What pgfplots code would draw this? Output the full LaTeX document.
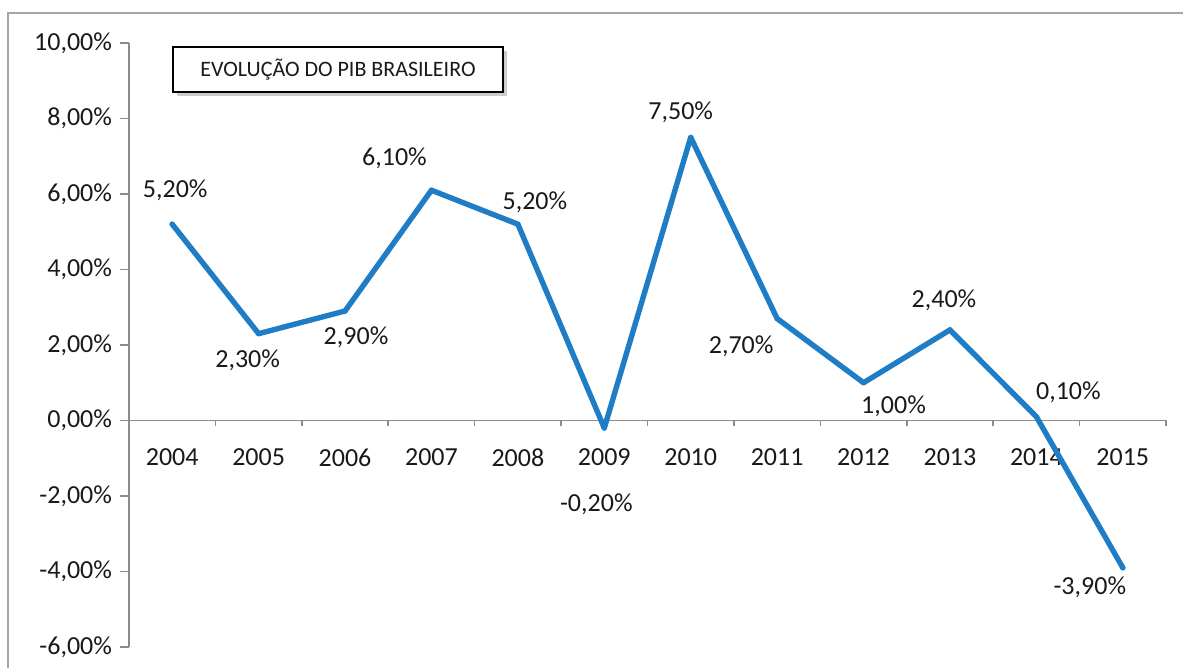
\documentclass[border=0pt]{standalone}
\usepackage{fontspec}
\setmainfont{Carlito}
\usepackage{pgfplots}
\pgfplotsset{compat=1.18}
\usepackage{pgfplotstable}
\usetikzlibrary{shadows}

\definecolor{lineblue}{RGB}{31,125,197}
\definecolor{axgray}{RGB}{140,140,140}
\definecolor{framegray}{RGB}{165,165,165}

% x = category index (2004 = 0), y = growth in %, dx/dy = label offset in pt
\pgfplotstableread{
x  y     dx     dy
0  5.2   1.5    17
1  2.3  -5.5   -13.5
2  2.9   5.5   -13
3  6.1  -18.5   16
4  5.2   8.5    11
5 -0.2  -4     -38
6  7.5  -5      12.5
7  2.7  -18    -14
8  1.0   15    -12
9  2.4  -3      15
10 0.1   16     12
11 -3.9 -16.5  -10
}\pib

\begin{document}
\begin{tikzpicture}
\path[use as bounding box] (-64.5pt,-10.5pt) rectangle (527pt,323.5pt);
\draw[framegray, line width=1pt] (-60.5pt,-20pt) -- (-60.5pt,317pt) -- (540pt,317pt);
\begin{axis}[
    at={(0,0)}, anchor=south west,
    scale only axis,
    width=518.5pt, height=302pt,
    xmin=-0.5, xmax=11.5,
    ymin=-6, ymax=10,
    axis x line=middle,
    axis y line=left,
    axis line style={draw=axgray, line width=0.9pt, -},
    hide obscured x ticks=false,
    hide obscured y ticks=false,
    xtick={0,...,11},
    xticklabels={2004,2005,2006,2007,2008,2009,2010,2011,2012,2013,2014,2015},
    minor xtick={-0.5,0.5,...,11.5},
    major x tick style={draw=none},
    minor x tick style={draw=axgray, line width=0.8pt},
    minor tick length=3pt,
    ytick={-6,-4,...,10},
    y tick style={draw=axgray, line width=0.8pt},
    major tick length=4.5pt,
    tick align=outside,
    /pgf/number format/assume math mode=true,
    yticklabel={\pgfmathprintnumber[fixed,fixed zerofill,precision=2,use comma]{\tick}\%},
    ticklabel style={font=\fontsize{13pt}{15pt}\selectfont, text=black!90},
    xticklabel style={yshift=-6pt},
    yticklabel style={xshift=-0.5pt},
    clip=false,
]
\addplot[color=lineblue, line width=2.7pt, line join=round, line cap=round,
    mark=*, mark size=0.01pt,
    visualization depends on={\thisrow{dx}\as\dx},
    visualization depends on={\thisrow{dy}\as\dy},
    point meta=y,
    nodes near coords={\pgfmathprintnumber[fixed,fixed zerofill,precision=2,use comma]{\pgfplotspointmeta}\%},
    nodes near coords style={anchor=center, xshift=\dx pt, yshift=\dy pt,
        font=\fontsize{13pt}{15pt}\selectfont, text=black!90},
] table[x=x, y=y] {\pib};
\end{axis}
\node[draw=black, line width=0.8pt, fill=white, minimum width=165pt, minimum height=22.5pt,
    drop shadow={shadow xshift=2pt, shadow yshift=-2pt, opacity=0.4},
    font=\fontsize{11pt}{13pt}\selectfont, text=black!90]
    at (104.5pt,288.75pt) {EVOLUÇÃO DO PIB BRASILEIRO};
\end{tikzpicture}
\end{document}
